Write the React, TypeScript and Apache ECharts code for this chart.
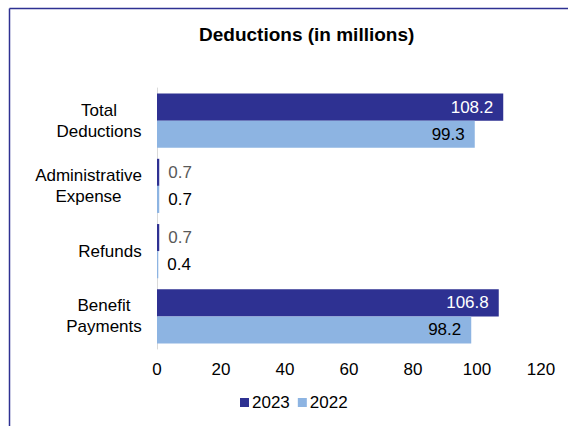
import React, { useEffect, useRef } from "react";
import * as echarts from "echarts";

const categories = ["Total\nDeductions", "Administrative\nExpense", "Refunds", "Benefit\nPayments"];
const values2023 = [108.2, 0.7, 0.7, 106.8];
const values2022 = [99.3, 0.7, 0.4, 98.2];
const xTicks = [0, 20, 40, 60, 80, 100, 120];
const seriesNames = ["2023", "2022"];

const FONT = "'Liberation Sans', Arial, sans-serif";
const FS = 17;
const DARK = "#2E3192";
const LIGHT = "#8DB4E2";

function makeData(vals: number[], bigColor: string, smallColor: string) {
  return vals.map((v) =>
    v > 10
      ? { value: v, label: { position: "insideRight", distance: 10, color: bigColor } }
      : { value: v, label: { position: "right", distance: 9, color: smallColor } }
  );
}

function measure(text: string): number {
  const c = document.createElement("canvas").getContext("2d");
  if (!c) return text.length * 9;
  c.font = `${FS}px ${FONT}`;
  return c.measureText(text).width;
}

export default function App() {
  const ref = useRef<HTMLDivElement>(null);
  useEffect(() => {
    if (!ref.current) return;
    const rich: Record<string, any> = {};
    categories.forEach((cat, i) => {
      const w = Math.ceil(Math.max(...cat.split("\n").map(measure)));
      rich["l" + i] = { width: w, align: "center", fontFamily: FONT, fontSize: FS, color: "#000000", lineHeight: 21 };
    });
    const chart = echarts.init(ref.current, undefined, { renderer: "svg" });
    chart.setOption({
      animation: false,
      backgroundColor: "#ffffff",
      textStyle: { fontFamily: FONT },
      title: {
        text: "Deductions (in millions)",
        left: 194,
        top: 20,
        textStyle: { fontFamily: FONT, fontSize: 19, fontWeight: "bold", color: "#000000" },
      },
      graphic: [
        { type: "line", shape: { x1: 9.5, y1: 8.5, x2: 568, y2: 8.5 }, style: { stroke: "#2E3192", lineWidth: 1.5 } },
        { type: "line", shape: { x1: 9.5, y1: 8.5, x2: 9.5, y2: 426 }, style: { stroke: "#2E3192", lineWidth: 1.5 } },
      ],
      legend: {
        data: seriesNames,
        top: 389,
        left: 235,
        icon: "rect",
        itemWidth: 9,
        itemHeight: 9,
        itemGap: 8,
        textStyle: { fontFamily: FONT, fontSize: FS, color: "#000000", padding: [0, 0, 0, -2] },
      },
      grid: { left: 157, right: 27, top: 88, bottom: 77, containLabel: false },
      xAxis: {
        type: "value",
        min: xTicks[0],
        max: xTicks[xTicks.length - 1],
        interval: 20,
        axisLine: { show: false },
        axisTick: { show: false },
        splitLine: { show: false },
        axisLabel: { fontFamily: FONT, fontSize: FS, color: "#000000", margin: 12 },
      },
      yAxis: {
        type: "category",
        data: categories,
        inverse: true,
        axisLine: { show: true, lineStyle: { color: "#D9D9D9", width: 1 } },
        axisTick: { show: false },
        axisLabel: {
          fontFamily: FONT,
          fontSize: FS,
          color: "#000000",
          margin: 15,
          lineHeight: 21,
          align: "right",
          formatter: (value: string, index: number) =>
            value.split("\n").map((l) => `{l${index}|${l}}`).join("\n"),
          rich,
        },
      },
      series: [
        {
          name: seriesNames[0],
          type: "bar",
          data: makeData(values2023, "#ffffff", "#595959"),
          itemStyle: { color: DARK },
          barGap: "0%",
          barCategoryGap: "17%",
          label: { show: true, fontFamily: FONT, fontSize: FS },
        },
        {
          name: seriesNames[1],
          type: "bar",
          data: makeData(values2022, "#000000", "#000000"),
          itemStyle: { color: LIGHT },
          barGap: "0%",
          barCategoryGap: "17%",
          label: { show: true, fontFamily: FONT, fontSize: FS },
        },
      ],
    });
    return () => chart.dispose();
  }, []);
  return <div ref={ref} style={{ position: "fixed", left: 0, top: 0, width: 568, height: 426 }} />;
}
